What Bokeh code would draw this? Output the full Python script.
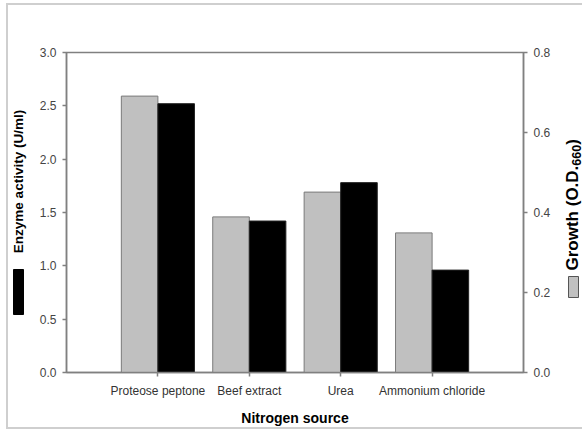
import math
from bokeh.plotting import figure
from bokeh.layouts import row
from bokeh.models import (Range1d, LinearAxis, FixedTicker, ColumnDataSource, PrintfTickFormatter)
from bokeh.transform import dodge
from bokeh.core.properties import value
from bokeh.embed import file_html
from bokeh.resources import INLINE

# ---- data ----
categories = ["Proteose peptone", "Beef extract", "Urea", "Ammonium chloride"]
positions = [1, 2, 3, 4]
enzyme_activity = [2.52, 1.42, 1.78, 0.96]      # U/ml, left axis (black bars)
growth = [0.691, 0.389, 0.451, 0.349]           # O.D.660, right axis (grey bars)
enzyme_ticks = [0.0, 0.5, 1.0, 1.5, 2.0, 2.5, 3.0]
growth_ticks = [0.0, 0.2, 0.4, 0.6, 0.8]

FONT = "Liberation Sans"
AXIS_GREY = "#808080"
LABEL_GREY = "#444444"
H = 430
LEFT_W, RIGHT_W = 30, 22
MAIN_W = 582 - LEFT_W - RIGHT_W
FRAME_TOP, FRAME_BOTTOM = 52, 372

src = ColumnDataSource(dict(pos=positions, enzyme=enzyme_activity, growth=growth))

# ---------------- main chart ----------------
p = figure(width=MAIN_W, height=H, output_backend="svg", toolbar_location=None,
           x_range=Range1d(0, 5), y_range=Range1d(0, 3),
           min_border_left=66 - LEFT_W, min_border_right=LEFT_W + MAIN_W - 523,
           min_border_top=FRAME_TOP, min_border_bottom=H - FRAME_BOTTOM)
p.extra_y_ranges = {"growth": Range1d(0, 0.8)}
p.xgrid.visible = False
p.ygrid.visible = False
p.background_fill_color = "white"
p.border_fill_color = None
p.outline_line_color = AXIS_GREY
p.outline_line_width = 1.5

p.vbar(x=dodge("pos", -0.2, range=p.x_range), top="growth", width=0.4, source=src,
       y_range_name="growth", fill_color="#c0c0c0", line_color="#7a7a7a", line_width=1)
p.vbar(x=dodge("pos", 0.2, range=p.x_range), top="enzyme", width=0.4, source=src,
       fill_color="black", line_color="#222222", line_width=1)

right_axis = LinearAxis(y_range_name="growth")
p.add_layout(right_axis, "right")

def style_axis(ax):
    ax.axis_line_color = AXIS_GREY
    ax.axis_line_width = 1.5
    ax.major_tick_line_color = AXIS_GREY
    ax.major_tick_line_width = 1.5
    ax.major_tick_out = 4
    ax.major_tick_in = 0
    ax.minor_tick_line_color = None
    ax.major_label_text_font = FONT
    ax.major_label_text_font_size = "12px"
    ax.major_label_text_color = LABEL_GREY
    ax.major_label_standoff = 6

left_axis = p.yaxis[0]
left_axis.ticker = FixedTicker(ticks=enzyme_ticks)
left_axis.formatter = PrintfTickFormatter(format="%.1f")
style_axis(left_axis)

right_axis.ticker = FixedTicker(ticks=growth_ticks)
right_axis.formatter = PrintfTickFormatter(format="%.1f")
style_axis(right_axis)

bottom_axis = p.xaxis[0]
bottom_axis.ticker = FixedTicker(ticks=positions)
bottom_axis.major_label_overrides = {pos: name for pos, name in zip(positions, categories)}
style_axis(bottom_axis)
bottom_axis.major_label_standoff = 7
bottom_axis.major_label_text_color = "#333333"
bottom_axis.axis_label = "Nitrogen source"
bottom_axis.axis_label_text_font = FONT
bottom_axis.axis_label_text_font_size = "14px"
bottom_axis.axis_label_text_font_style = "bold"
bottom_axis.axis_label_text_color = "black"
bottom_axis.axis_label_standoff = 9

# ---------------- side strips (axis titles + legend swatches) ----------------
# their frames are aligned with the main frame by the row layout,
# so the y range is expressed in page pixels of that frame (top-down)
def side_strip(width):
    s = figure(width=width, height=H, output_backend="svg", toolbar_location=None,
               x_range=Range1d(0, width), y_range=Range1d(FRAME_BOTTOM, FRAME_TOP),
               min_border=0, min_border_left=0, min_border_right=0,
               min_border_top=FRAME_TOP, min_border_bottom=H - FRAME_BOTTOM)
    s.axis.visible = False
    s.grid.visible = False
    s.outline_line_color = None
    s.background_fill_color = None
    s.border_fill_color = None
    return s

LEFT_FS = 13.5
left = side_strip(LEFT_W)
left.text(x=[18], y=[181], text=["Enzyme activity (U/ml)"], angle=math.pi / 2,
          text_font=value(FONT), text_font_size=f"{LEFT_FS}px", text_font_style="bold",
          text_align="center", text_baseline="middle", text_color="black")
left.quad(left=[13], right=[23], top=[269], bottom=[314], fill_color="black", line_color="black")

RIGHT_FS = 17
SUB_FS = 12.5
right = side_strip(RIGHT_W)
y0 = 270                              # bottom end of the rotated title
main_len = 6.168 * RIGHT_FS           # "Growth (O.D." advance (Arial-bold metrics)
right.text(x=[12], y=[y0], text=["Growth (O.D."], angle=math.pi / 2,
           text_font=value(FONT), text_font_size=f"{RIGHT_FS}px", text_font_style="bold",
           text_align="left", text_baseline="middle", text_color="black")
right.text(x=[15.5], y=[y0 - main_len], text=["660"], angle=math.pi / 2,
           text_font=value(FONT), text_font_size=f"{SUB_FS}px", text_font_style="bold",
           text_align="left", text_baseline="middle", text_color="black")
right.text(x=[12], y=[y0 - main_len - 3 * 0.556 * SUB_FS], text=[")"], angle=math.pi / 2,
           text_font=value(FONT), text_font_size=f"{RIGHT_FS}px", text_font_style="bold",
           text_align="left", text_baseline="middle", text_color="black")
right.quad(left=[8], right=[18], top=[276], bottom=[297], fill_color="#c0c0c0", line_color="#555555")

BORDER = "#cfcfcf"
frame_css = ", ".join([
    f"linear-gradient({BORDER},{BORDER}) 6px 4px / 2px 425px no-repeat",
    f"linear-gradient({BORDER},{BORDER}) 6px 3px / 580px 2px no-repeat",
    f"linear-gradient({BORDER},{BORDER}) 6px 427px / 580px 2px no-repeat",
    "white",
])
layout = row(left, p, right, styles={"background": frame_css})

open("out.html", "w").write(file_html(layout, INLINE))
